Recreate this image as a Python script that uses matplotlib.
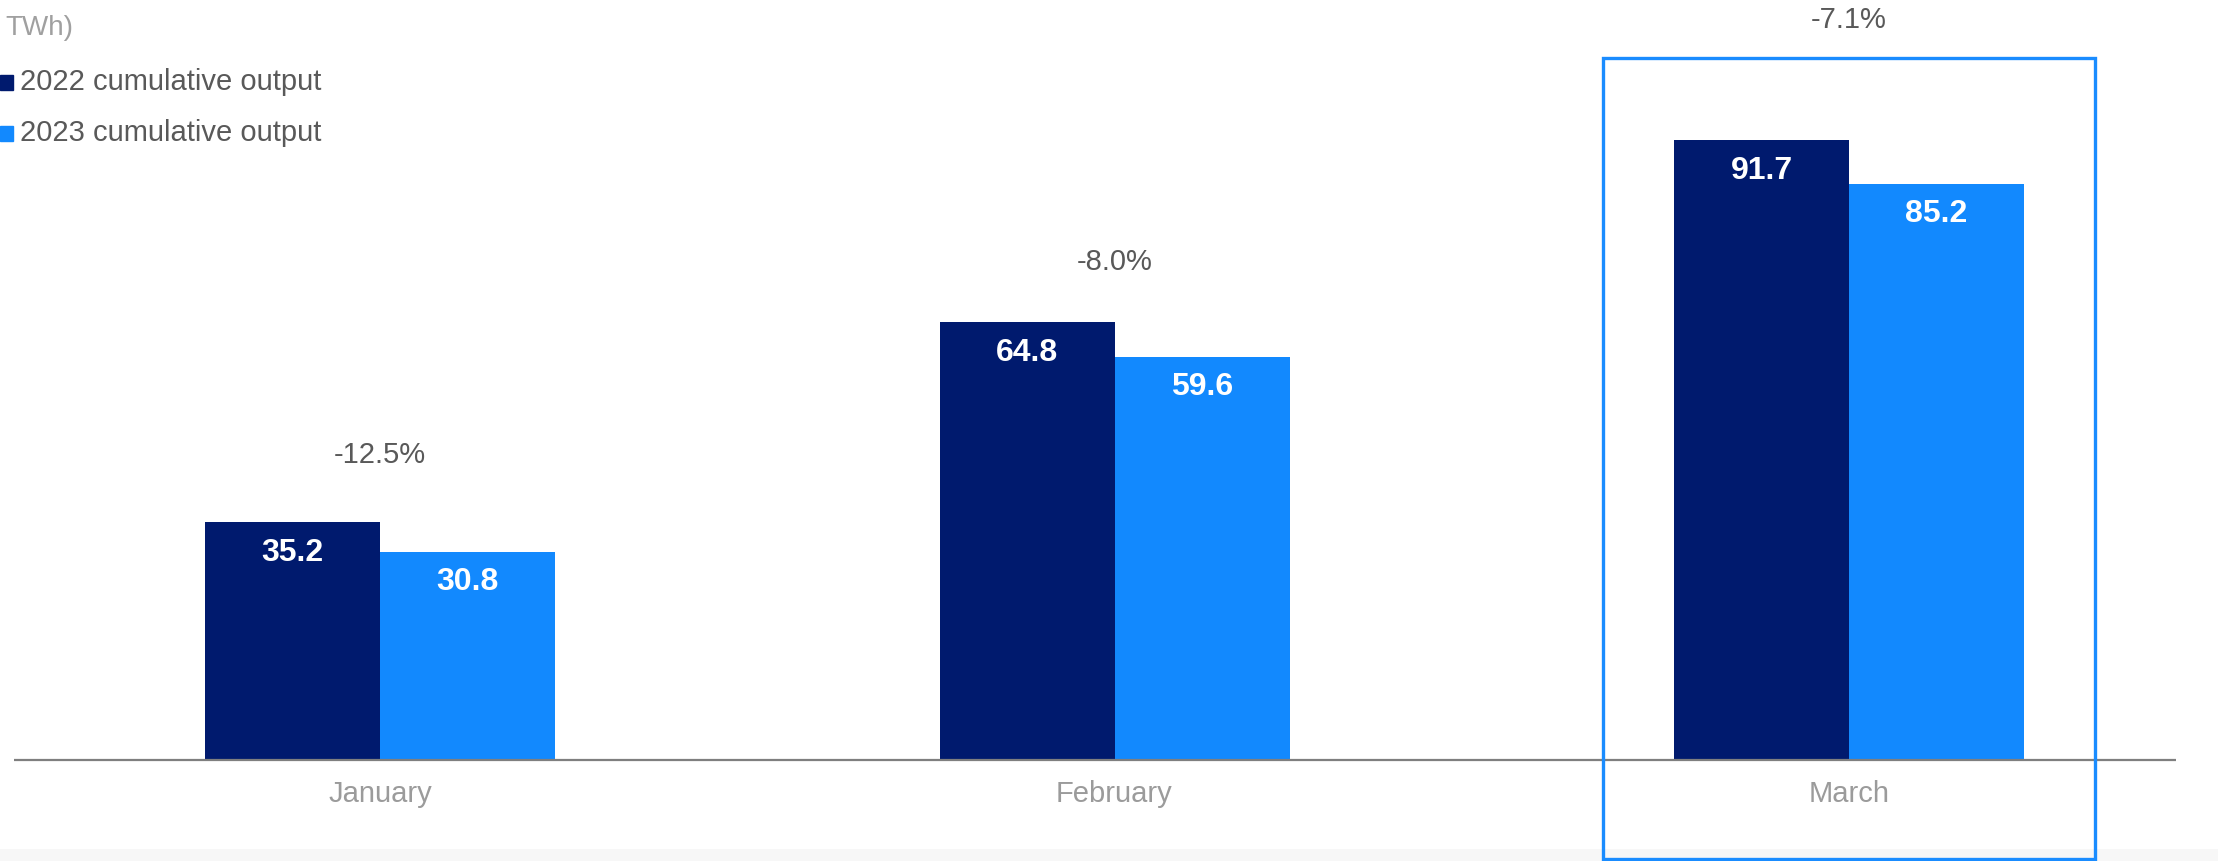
import matplotlib
matplotlib.use("Agg")
import matplotlib.pyplot as plt
from matplotlib.patches import Rectangle

plt.rcParams["font.family"] = ["Liberation Sans", "DejaVu Sans"]

months = ["January", "February", "March"]
output_2022 = [35.2, 64.8, 91.7]
output_2023 = [30.8, 59.6, 85.2]
changes = ["-12.5%", "-8.0%", "-7.1%"]
series_names = ["2022 cumulative output", "2023 cumulative output"]
unit_label = "TWh)"

# layout (not data)
change_label_y = [45.1, 73.7, 109.5]
highlight_idx = 2

DARK = "#001A6E"
LIGHT = "#1289FE"
GREY_TXT = "#595959"
AXIS_TXT = "#9B9B9B"

W, H = 2218, 861
fig = plt.figure(figsize=(W / 100, H / 100), dpi=100)

# faint bottom band (behind everything)
band = fig.add_axes([0, 0, 1, 24 / H], zorder=-1)
band.set_axis_off()
band.imshow([[0.0], [1.0]], cmap=plt.matplotlib.colors.LinearSegmentedColormap.from_list(
    "g", ["#FFFFFF", "#F7F7F7"]), aspect="auto", extent=(0, 1, 1, 0))

ax = fig.add_axes([0, 0, 1, 1])
ax.set_axis_off()
ax.patch.set_alpha(0)

spacing = 734.5          # px between categories
px_per_unit = 6.76
x0_px, y0_px = 380, 760  # pixel of Jan centre / baseline
ax.set_xlim(-x0_px / spacing, (W - x0_px) / spacing)
ax.set_ylim(-(H - y0_px) / px_per_unit, y0_px / px_per_unit)

bw = 175 / spacing
xs = list(range(len(months)))
ax.bar([x - bw / 2 for x in xs], output_2022, width=bw, color=DARK, zorder=2)
ax.bar([x + bw / 2 for x in xs], output_2023, width=bw, color=LIGHT, zorder=2)

# baseline
ax.plot([(14 - x0_px) / spacing, (2176 - x0_px) / spacing], [0, 0],
        color="#7F7F7F", lw=1.6, zorder=3, solid_capstyle="butt")

for i, x in enumerate(xs):
    ax.annotate(f"{output_2022[i]:.1f}", (x - bw / 2, output_2022[i]),
                xytext=(0, -31), textcoords="offset pixels", ha="center",
                va="center", color="white", fontsize=23, fontweight="bold", zorder=4)
    ax.annotate(f"{output_2023[i]:.1f}", (x + bw / 2, output_2023[i]),
                xytext=(0, -30), textcoords="offset pixels", ha="center",
                va="center", color="white", fontsize=23, fontweight="bold", zorder=4)
    ax.text(x, change_label_y[i], changes[i], ha="center", va="center",
            color=GREY_TXT, fontsize=21)
    ax.annotate(months[i], (x, 0), xytext=(0, -34), textcoords="offset pixels",
                ha="center", va="center", color=AXIS_TXT, fontsize=21)

# highlight box around March
half = 246 / spacing
box_top = (y0_px - 58) / px_per_unit
box_bottom = -(H - 2 - y0_px) / px_per_unit
ax.add_patch(Rectangle((highlight_idx - half, box_bottom), 2 * half, box_top - box_bottom,
                       fill=False, edgecolor="#1A8CFF", lw=2.4, zorder=5, clip_on=False))

# legend / unit text
fig.text(5 / W, 1 - 28 / H, unit_label, ha="left", va="center", color="#A0A0A0", fontsize=20)
for j, (name, col) in enumerate(zip(series_names, [DARK, LIGHT])):
    cy = 82 + j * 51
    fig.patches.append(Rectangle((0, 1 - (cy + 7.5) / H), 13 / W, 15 / H,
                                 transform=fig.transFigure, color=col))
    fig.text(20 / W, 1 - cy / H, name, ha="left", va="center", color=GREY_TXT, fontsize=21)

fig.savefig("out.png", dpi=100)
